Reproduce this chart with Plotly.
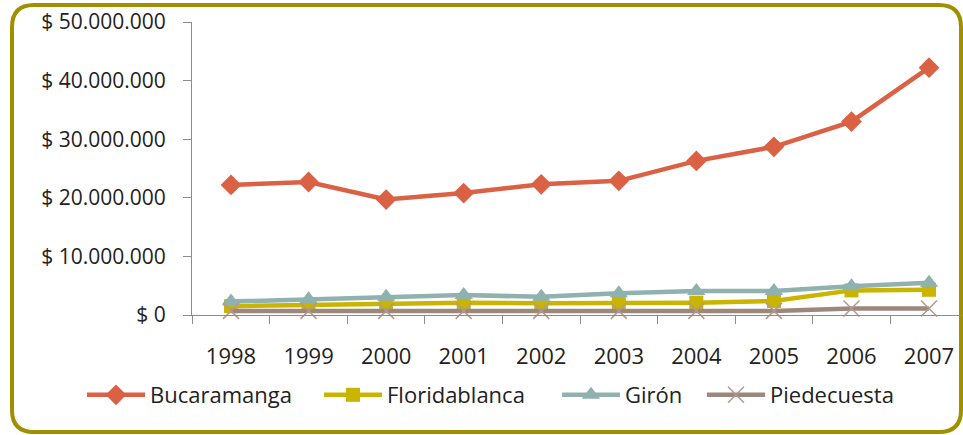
import plotly.graph_objects as go

years = ["1998", "1999", "2000", "2001", "2002", "2003", "2004", "2005", "2006", "2007"]
bucaramanga = [22.2e6, 22.7e6, 19.7e6, 20.8e6, 22.3e6, 22.9e6, 26.3e6, 28.7e6, 33.0e6, 42.2e6]
floridablanca = [1.5e6, 1.7e6, 2.0e6, 2.1e6, 2.0e6, 2.0e6, 2.1e6, 2.4e6, 4.2e6, 4.3e6]
giron = [2.3e6, 2.7e6, 3.1e6, 3.4e6, 3.1e6, 3.7e6, 4.1e6, 4.1e6, 4.9e6, 5.5e6]
piedecuesta = [0.7e6, 0.7e6, 0.7e6, 0.7e6, 0.7e6, 0.7e6, 0.7e6, 0.7e6, 1.1e6, 1.1e6]

y_tickvals = [0, 10e6, 20e6, 30e6, 40e6, 50e6]
y_ticktext = ["$ 0", "$ 10.000.000", "$ 20.000.000", "$ 30.000.000", "$ 40.000.000", "$ 50.000.000"]

W, H = 963, 435
ML, MR, MT, MB = 192, 0, 22, 120
PW, PH = W - ML - MR, H - MT - MB

FONT = "Open Sans"
TXT = "#222222"


def px(x):
    return (x - ML) / PW


def py(y):
    return (MT + PH - y) / PH


fig = go.Figure()
series = [
    ("Bucaramanga", bucaramanga, "#DA6144", dict(symbol="diamond", size=16, color="#DA6144"), "legend", 82),
    ("Floridablanca", floridablanca, "#C9B500", dict(symbol="square", size=14, color="#C9B500"), "legend2", 319),
    ("Girón", giron, "#8FB1B0", dict(symbol="triangle-up", size=16, color="#8FB1B0"), "legend3", 557),
    ("Piedecuesta", piedecuesta, "#9C877C",
     dict(symbol="x-thin", size=16, color="#9C877C", line=dict(width=1.5, color="#B09A8E")), "legend4", 702),
]
legends = {}
for name, vals, col, mk, lg, lx in series:
    fig.add_trace(go.Scatter(
        x=years, y=vals, name=name, mode="lines+markers",
        line=dict(color=col, width=4.5), marker=mk, cliponaxis=False, legend=lg,
    ))
    legends[lg] = dict(orientation="h", x=px(lx), xanchor="left", y=py(395), yanchor="middle",
                       font=dict(family=FONT, size=22, color=TXT), itemwidth=58,
                       bgcolor="rgba(0,0,0,0)")

# rounded border
L, T, R, B, r = 12, 5, 961, 432, 22
path = (
    f"M {px(L)},{py(T + r)} Q {px(L)},{py(T)} {px(L + r)},{py(T)} "
    f"L {px(R - r)},{py(T)} Q {px(R)},{py(T)} {px(R)},{py(T + r)} "
    f"L {px(R)},{py(B - r)} Q {px(R)},{py(B)} {px(R - r)},{py(B)} "
    f"L {px(L + r)},{py(B)} Q {px(L)},{py(B)} {px(L)},{py(B - r)} Z"
)
fig.add_shape(type="path", path=path, xref="paper", yref="paper",
              line=dict(color="#A09000", width=4), layer="below")

fig.update_layout(
    width=W, height=H,
    margin=dict(l=ML, r=MR, t=MT, b=MB, autoexpand=False),
    paper_bgcolor="white", plot_bgcolor="white",
    font=dict(family=FONT, size=20, color=TXT),
    showlegend=True,
    xaxis=dict(type="category", range=[-0.503, 9.438], showgrid=False,
               showline=True, linecolor="#8C8C8C", linewidth=1,
               ticks="outside", ticklen=8, tickcolor="#8C8C8C", tickson="boundaries",
               tickfont=dict(family=FONT, size=22, color=TXT), ticklabelstandoff=22,
               zeroline=False, fixedrange=True),
    yaxis=dict(range=[0, 50e6], showgrid=False, showline=True, linecolor="#8C8C8C", linewidth=1,
               ticks="outside", ticklen=8, tickcolor="#8C8C8C",
               tickvals=y_tickvals, ticktext=y_ticktext,
               tickfont=dict(family=FONT, size=21, color=TXT), ticklabelstandoff=13,
               zeroline=False, fixedrange=True),
    **legends,
)

fig.write_html("out.html", config={"displayModeBar": False},
               post_script="document.body.style.margin='0';")
